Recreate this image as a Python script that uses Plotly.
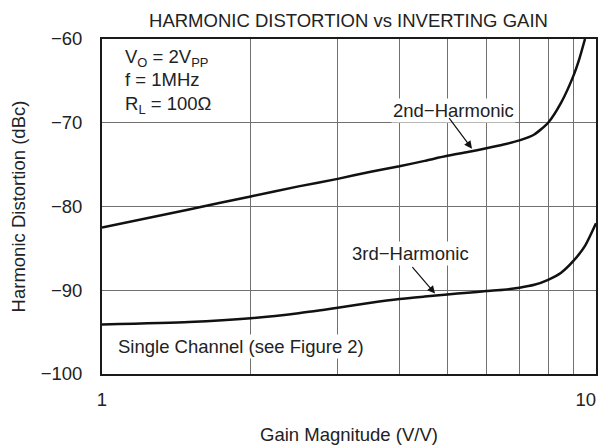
import plotly.graph_objects as go

# ---- data ----
gain = [1, 1.5, 2, 2.5, 3, 3.5, 4, 4.5, 5, 5.5, 6, 6.5, 7, 7.5, 8, 8.5, 9, 9.25, 9.5]
h2 = [-82.5, -80.35, -78.8, -77.6, -76.7, -75.85, -75.2, -74.55, -73.95, -73.5,
      -73.05, -72.6, -72.1, -71.4, -70.0, -67.6, -64.4, -62.4, -60.0]
gain3 = [1, 1.5, 2, 2.5, 3, 3.5, 4, 4.5, 5, 5.5, 6, 6.5, 7, 7.5, 8, 8.5, 9, 9.5, 10]
h3 = [-94.1, -93.8, -93.35, -92.75, -92.1, -91.5, -91.05, -90.75, -90.5, -90.3,
      -90.1, -89.95, -89.7, -89.35, -88.75, -87.9, -86.5, -84.7, -82.0]
x_major = [1, 10]
x_major_text = ["1", "10\u2007\u2007"]
x_minor = [2, 3, 4, 5, 6, 7, 8, 9]
y_ticks = [-100, -90, -80, -70, -60]
y_ticktext = ["\u2212100", "\u221290", "\u221280", "\u221270", "\u221260"]
param_lines = ["V<sub>O</sub> = 2V<sub>PP</sub>", "f = 1MHz", "R<sub>L</sub> = 100\u03a9"]

FONT = "Liberation Sans, Arial, sans-serif"
FS = 18.5
TXT = "#222222"
GRID = "#707070"

# page body has an 8px margin: figure sized to fill the rest of the window
W, H = 608, 437

fig = go.Figure()
fig.add_trace(go.Scatter(x=gain, y=h2, mode="lines",
                         line=dict(color="#111111", width=2.5, shape="spline", smoothing=0.6),
                         showlegend=False, cliponaxis=True))
fig.add_trace(go.Scatter(x=gain3, y=h3, mode="lines",
                         line=dict(color="#111111", width=2.5, shape="spline", smoothing=0.6),
                         showlegend=False, cliponaxis=True))

fig.update_layout(
    width=W, height=H,
    margin=dict(l=94, r=20, t=31, b=71, autoexpand=False),
    paper_bgcolor="white", plot_bgcolor="white",
    font=dict(family=FONT, size=FS, color=TXT),
    title=dict(text="HARMONIC DISTORTION vs INVERTING GAIN", x=0.56, xanchor="center",
               y=1 - 13 / H, yanchor="middle", font=dict(size=FS, color=TXT)),
    xaxis=dict(type="log", range=[0, 1], tickvals=x_major, ticktext=x_major_text,
               showgrid=True, gridcolor=GRID, gridwidth=1,
               minor=dict(tickvals=x_minor, showgrid=True, gridcolor=GRID, gridwidth=1, ticks=""),
               showline=True, mirror=True, linecolor="#1a1a1a", linewidth=2,
               ticks="", ticklabelstandoff=8, ticklabeloverflow="allow",
               zeroline=False, automargin=False,
               title=dict(text="Gain Magnitude (V/V)", standoff=19,
                          font=dict(size=FS, color=TXT))),
    yaxis=dict(range=[-100, -60], tickvals=y_ticks, ticktext=y_ticktext,
               showgrid=True, gridcolor=GRID, gridwidth=1,
               showline=True, mirror=True, linecolor="#1a1a1a", linewidth=2,
               ticks="", ticklabelstandoff=14, ticklabeloverflow="allow",
               zeroline=False, automargin=False,
               title=dict(text="Harmonic Distortion (dBc)", standoff=10,
                          font=dict(size=FS, color=TXT))),
)

# parameter block
for txt, yd in zip(param_lines, [0.985, 0.9154, 0.8462]):
    fig.add_annotation(xref="x domain", yref="y domain", x=0.042, y=yd,
                       xanchor="left", yanchor="top", align="left", showarrow=False,
                       text=txt, font=dict(size=FS, color=TXT))

# curve labels (white background)
fig.add_annotation(x=0.7117, y=-68.5, xref="x", yref="y", text="2nd\u2212Harmonic",
                   showarrow=False, bgcolor="white", borderpad=1,
                   font=dict(size=FS, color=TXT))
fig.add_annotation(x=0.6247, y=-85.6, xref="x", yref="y", text="3rd\u2212Harmonic",
                   showarrow=False, bgcolor="white", borderpad=1,
                   font=dict(size=FS, color=TXT))
fig.add_annotation(x=0.028, y=-96.7, xref="x", yref="y", text="Single Channel (see Figure 2)",
                   showarrow=False, xanchor="left", bgcolor="white", borderpad=1,
                   font=dict(size=FS, color=TXT))

# arrows
fig.add_annotation(x=0.749, y=-73.1, xref="x", yref="y", text="", showarrow=True,
                   ax=-24, ay=-32, arrowhead=2, arrowsize=1.3, arrowwidth=1.2,
                   arrowcolor="#111111", standoff=0)
fig.add_annotation(x=0.6743, y=-90.4, xref="x", yref="y", text="", showarrow=True,
                   ax=-24, ay=-28, arrowhead=2, arrowsize=1.3, arrowwidth=1.2,
                   arrowcolor="#111111", standoff=0)

fig.write_html("out.html")
